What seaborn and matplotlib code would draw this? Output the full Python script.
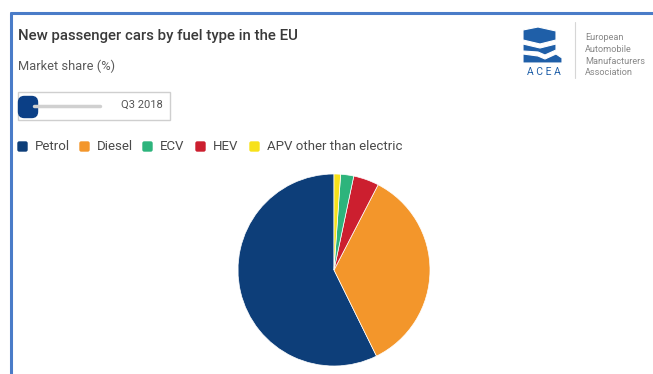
import matplotlib
matplotlib.use("Agg")
import matplotlib.pyplot as plt
from matplotlib.patches import FancyBboxPatch, Rectangle, Polygon
from matplotlib.lines import Line2D
import seaborn as sns

# ---- data ----
categories = ["Petrol", "Diesel", "ECV", "HEV", "APV other than electric"]
shares = [57.3, 35.1, 2.2, 4.3, 1.1]
colors = ["#0d3e79", "#f3962b", "#2db47c", "#cc1f2f", "#f7e11a"]
period_label = "Q3 2018"
title = "New passenger cars by fuel type in the EU"
subtitle = "Market share (%)"
logo_lines = ["European", "Automobile", "Manufacturers", "Association"]

sns.set_theme(style="white")
plt.rcParams["font.family"] = ["Roboto", "DejaVu Sans"]

W, H = 653, 374
fig = plt.figure(figsize=(W / 100, H / 100), dpi=100)
fig.patch.set_facecolor("white")

def fx(x):
    return x / W

def fy(y):
    return 1 - y / H

# border lines (top and left)
border = "#4a7cc8"
fig.add_artist(Line2D([fx(10.5), fx(653)], [fy(12.5), fy(12.5)], color=border, lw=2.2))
fig.add_artist(Line2D([fx(10.5), fx(10.5)], [fy(12.5), fy(374)], color=border, lw=2.2))

# title / subtitle
fig.text(fx(18), fy(36), title, fontsize=10.8, fontweight="medium", color="#3a3a3a",
         va="center", ha="left")
fig.text(fx(18), fy(66), subtitle, fontsize=9.3, color="#5a5a5a", va="center", ha="left")

# slider box
fig.add_artist(Rectangle((fx(18), fy(120)), fx(152), (120 - 92) / H,
                         facecolor="white", edgecolor="#cfcfcf", lw=1.0))
fig.add_artist(Line2D([fx(34), fx(100)], [fy(105.5), fy(105.5)], color="#d0d0d0", lw=2.5))
fig.add_artist(FancyBboxPatch((fx(18.5), fy(117.5)), fx(19), 21 / H,
                              boxstyle="round,pad=0,rounding_size=0.009",
                              facecolor="#0b3f86", edgecolor="#0b3f86",
                              mutation_aspect=W / H))
fig.text(fx(163), fy(105), period_label, fontsize=8, color="#555555", va="center", ha="right")

# legend
pal = sns.color_palette(colors)
leg_x = [18, 80, 143, 196, 250]
for x, c, lab in zip(leg_x, pal, categories):
    fig.add_artist(FancyBboxPatch((fx(x), fy(151)), fx(9), 9 / H,
                                  boxstyle="round,pad=0,rounding_size=0.002",
                                  facecolor=c, edgecolor=c, mutation_aspect=W / H))
    fig.text(fx(x + 17), fy(146), lab, fontsize=9.5, color="#4a4a4a", va="center", ha="left")

# ACEA logo
logo_blue = "#1f5fa8"
icon = [
    [(523, 30), (538, 27), (556, 31), (556, 40), (540, 44), (523, 40)],
    [(523, 44), (540, 48), (556, 44), (556, 50), (545, 55), (538, 52), (523, 51)],
    [(523, 54), (538, 56), (545, 59), (556, 54), (562, 58), (562, 63), (523, 63)],
]
for poly in icon:
    fig.add_artist(Polygon([(fx(x), fy(y)) for x, y in poly], closed=True,
                           facecolor=logo_blue, edgecolor="white", lw=0.8))
fig.text(fx(544), fy(72), "A C E A", fontsize=7.5, color=logo_blue, va="center", ha="center")
fig.add_artist(Line2D([fx(575), fx(575)], [fy(22), fy(78)], color="#d6d6d6", lw=0.8))
for i, t in enumerate(logo_lines):
    fig.text(fx(585), fy(38 + i * 11.5), t, fontsize=6.6, color="#888888", va="center", ha="left")

# pie
cx, cy, r = 334, 270, 96
ax = fig.add_axes([fx(cx - r), fy(cy + r), 2 * r / W, 2 * r / H])
order = [0, 1, 3, 2, 4]
ax.pie([shares[i] for i in order], colors=[pal[i] for i in order],
       startangle=90, counterclock=True, radius=1,
       wedgeprops=dict(linewidth=0.5, edgecolor="white"))
ax.set_xlim(-1.0, 1.0)
ax.set_ylim(-1.0, 1.0)
ax.set_aspect("equal")
ax.axis("off")

fig.savefig("out.png", dpi=100, facecolor="white")
